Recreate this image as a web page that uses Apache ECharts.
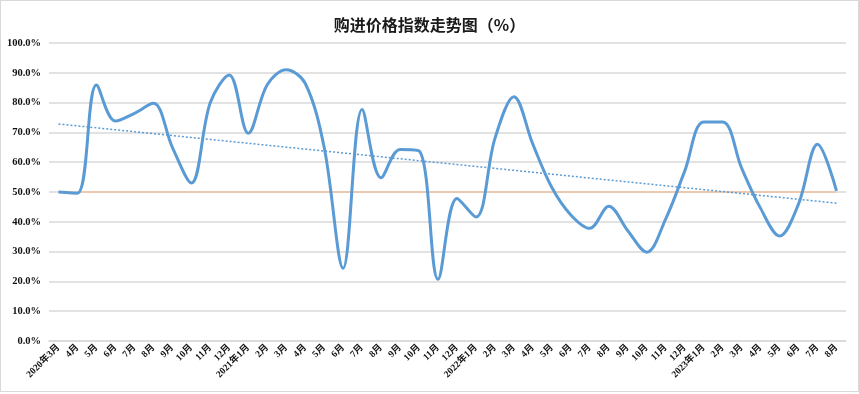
<!DOCTYPE html>
<html><head><meta charset="utf-8">
<script src="https://cdn.jsdelivr.net/npm/echarts@6/dist/echarts.min.js"></script>
<style>html,body{margin:0;padding:0;background:#fff}#c{width:857px;height:390px;border:1px solid #d9d9d9}</style>
</head><body><div id="c"></div>
<script>
var categories = ['2020年3月','4月','5月','6月','7月','8月','9月','10月','11月','12月',
  '2021年1月','2月','3月','4月','5月','6月','7月','8月','9月','10月','11月','12月',
  '2022年1月','2月','3月','4月','5月','6月','7月','8月','9月','10月','11月','12月',
  '2023年1月','2月','3月','4月','5月','6月','7月','8月'];
var priceIndex = [50,49.6,85.9,73.8,76.4,79.8,65,53,80,89.3,
  69.7,86,91,86.5,65,24.4,77.7,54.8,64.3,63.8,20.7,47.8,
  41.6,68,82,66,51.5,42.3,37.8,45.2,37,29.8,41,57,
  73.5,73.5,58,44.5,35.2,46,66,50.4];
var baseline = 50;
var yTicks = [0,10,20,30,40,50,60,70,80,90,100];

// linear trendline (least squares) from the data
var n = priceIndex.length, sx=0, sy=0, sxy=0, sxx=0;
for (var i=0;i<n;i++){sx+=i;sy+=priceIndex[i];sxy+=i*priceIndex[i];sxx+=i*i;}
var slope=(n*sxy-sx*sy)/(n*sxx-sx*sx), icpt=(sy-slope*sx)/n;
var trend = priceIndex.map(function(_,i){return icpt+slope*i;});
var base = priceIndex.map(function(){return baseline;});

var serif = '"Liberation Serif","Times New Roman","Noto Sans CJK SC",serif';
var chart = echarts.init(document.getElementById('c'));
chart.setOption({
  animation:false,
  title:{text:'购进价格指数走势图（%）',left:'center',top:11,
    textStyle:{fontFamily:'"Noto Sans CJK SC",sans-serif',fontSize:16,fontWeight:'bold',color:'#1a1a1a'}},
  grid:{left:48,right:12,top:42,bottom:50},
  xAxis:{type:'category',data:categories,boundaryGap:true,
    axisLine:{show:true,lineStyle:{color:'#d9d9d9',width:1.5}},
    axisTick:{show:false},
    axisLabel:{interval:0,rotate:45,margin:5,fontFamily:serif,fontWeight:'bold',fontSize:9.5,color:'#111'}},
  yAxis:{type:'value',min:yTicks[0],max:yTicks[yTicks.length-1],interval:10,
    axisLine:{show:false},axisTick:{show:false},
    splitLine:{lineStyle:{color:'#d9d9d9',width:1.5}},
    axisLabel:{formatter:function(v){return v.toFixed(1)+'%';},margin:8,
      fontFamily:serif,fontWeight:'bold',fontSize:10.5,color:'#111'}},
  series:[
    {type:'line',data:base,symbol:'none',silent:true,
      lineStyle:{color:'#F4B183',width:2,type:[1,1]},z:1},
    {type:'line',data:trend,symbol:'none',silent:true,
      lineStyle:{color:'#5B9BD5',width:1.5,type:[2,2]},z:2},
    {type:'line',data:priceIndex,symbol:'none',smooth:0.35,
      lineStyle:{color:'#5B9BD5',width:3},z:3}
  ]
});
</script></body></html>
